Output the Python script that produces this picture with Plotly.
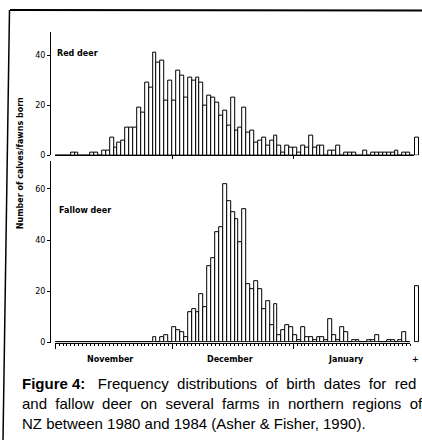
import plotly.graph_objects as go

# ---------------- data ----------------
# daily counts, day 0 = 1 November
red_deer = [0, 0, 0, 0, 1, 1, 0, 0, 0, 1, 1, 0, 2, 2, 7, 3, 5, 6, 11, 11,
            11, 19, 17, 29, 27, 41, 37, 38, 22, 30, 22, 34, 32, 23, 31, 30, 31, 29, 20, 24,
            23, 21, 16, 18, 12, 23, 10, 11, 19, 9, 10, 5, 6, 7, 4, 6, 8, 4, 1, 4,
            3, 3, 1, 4, 3, 8, 3, 4, 4, 0, 2, 2, 4, 0, 1, 1, 1, 0, 0, 2,
            0, 1, 1, 1, 1, 1, 1, 2, 0, 1, 1, 0]
fallow_deer = [0, 0, 0, 0, 0, 0, 0, 0, 0, 0, 0, 0, 0, 0, 0, 0, 0, 0, 0, 0,
               0, 0, 0, 0, 0, 2, 0, 2, 3, 0, 6, 5, 4, 2, 12, 13, 12, 19, 14, 30,
               33, 43, 45, 62, 55, 51, 48, 39, 52, 23, 21, 24, 21, 13, 16, 7, 15, 3, 5, 7,
               6, 3, 1, 6, 2, 2, 1, 2, 2, 1, 9, 3, 1, 6, 4, 0, 1, 1, 0, 0,
               1, 1, 3, 0, 0, 1, 1, 0, 1, 4, 0]
later_label = ["+"]
red_later = [7]
fallow_later = [22]

month_labels = ["November", "December", "January", "+"]
month_starts = [0, 30, 61]          # day index of 1 Nov, 1 Dec, 1 Jan
red_yticks = [0, 20, 40]
fallow_yticks = [0, 20, 40, 60]
caption = [
    "<b>Figure 4:</b>\u00a0\u00a0\u00a0Frequency\u00a0\u00a0distributions\u00a0\u00a0of\u00a0\u00a0birth\u00a0\u00a0dates\u00a0\u00a0for\u00a0\u00a0red",
    "and\u00a0\u00a0fallow\u00a0\u00a0deer\u00a0\u00a0on\u00a0\u00a0several\u00a0\u00a0farms\u00a0\u00a0in\u00a0\u00a0northern\u00a0\u00a0regions\u00a0\u00a0of",
    "NZ between 1980 and 1984 (Asher & Fisher, 1990).",
]

# ---------------- layout helpers ----------------
W, H = 422, 445
def px(x):
    return x / W
def py(y):
    return 1 - y / H

DAY = 3.903
X0 = 55.2
LBL = dict(family="DejaVu Sans", size=8, color="black")
TICKF = dict(family="DejaVu Sans", size=8, color="black")

red_days = list(range(len(red_deer)))
fallow_days = list(range(len(fallow_deer)))

bar_style = dict(marker=dict(color="white", line=dict(color="black", width=1)),
                 width=1, showlegend=False, hoverinfo="skip")

fig = go.Figure()
fig.add_trace(go.Bar(x=red_days, y=red_deer, xaxis="x", yaxis="y", **bar_style))
fig.add_trace(go.Bar(x=fallow_days, y=fallow_deer, xaxis="x2", yaxis="y2", **bar_style))
fig.add_trace(go.Bar(x=later_label, y=red_later, xaxis="x3", yaxis="y", **bar_style))
fig.add_trace(go.Bar(x=later_label, y=fallow_later, xaxis="x4", yaxis="y2", **bar_style))

n_red = len(red_deer)
n_fal = len(fallow_deer)
axis_common = dict(showgrid=False, zeroline=False, linecolor="black", linewidth=1,
                   tickcolor="black", tickwidth=1)

fig.update_layout(
    width=W, height=H,
    margin=dict(l=0, r=0, t=0, b=0),
    paper_bgcolor="white", plot_bgcolor="rgba(0,0,0,0)",
    bargap=0,
    xaxis=dict(domain=[px(X0), px(X0 + n_red * DAY)], range=[-0.5, n_red - 0.5],
               anchor="y", showline=True, ticks="outside", ticklen=3,
               tickvals=[m - 0.5 for m in month_starts[1:]], showticklabels=False,
               **axis_common),
    yaxis=dict(domain=[py(157), py(32)], range=[0, 49.5], anchor="free", position=px(50),
               showline=True, ticks="outside", ticklen=3, tickvals=red_yticks,
               tickfont=TICKF, tickprefix="<b>", ticksuffix="</b>", **axis_common),
    xaxis2=dict(domain=[px(X0), px(X0 + n_fal * DAY)], range=[-0.5, n_fal - 0.5],
                anchor="y2", showline=True, ticks="outside", ticklen=5,
                tickvals=[m - 0.5 for m in month_starts], showticklabels=False,
                minor=dict(ticks="outside", ticklen=2, dtick=1, tick0=-0.5,
                           tickcolor="black", showgrid=False),
                **axis_common),
    yaxis2=dict(domain=[py(346.5), py(163)], range=[0, 70.8], anchor="free", position=px(50),
                showline=True, ticks="outside", ticklen=3, tickvals=fallow_yticks,
                tickfont=TICKF, tickprefix="<b>", ticksuffix="</b>", **axis_common),
    xaxis3=dict(domain=[px(412), px(422)], range=[-1.175, 1.325], anchor="y",
                visible=False, type="category"),
    xaxis4=dict(domain=[px(412), px(422)], range=[-1.175, 1.325], anchor="y2",
                visible=False, type="category"),
)

ann = []
ann.append(dict(text="<b>Number of calves/fawns born</b>", x=px(20), y=py(165), textangle=-90,
                font=dict(family="DejaVu Sans", size=8, color="black")))
ann.append(dict(text="<b>Red deer</b>", x=px(55), y=py(54), xanchor="left", font=LBL))
ann.append(dict(text="<b>Fallow deer</b>", x=px(57), y=py(213), xanchor="left", font=LBL))
month_x = [110, 230, 346, 415]
for lab, mx in zip(month_labels, month_x):
    ann.append(dict(text="<b>" + lab + "</b>", x=px(mx), y=py(364), font=LBL))
for line, cy in zip(caption, [388, 408, 428]):
    ann.append(dict(text=line, x=px(19.5), y=py(cy), xanchor="left", yanchor="middle",
                    font=dict(family="Liberation Sans", size=15, color="black")))
for a in ann:
    a.update(xref="paper", yref="paper", showarrow=False)
    a.setdefault("xanchor", "center")
    a.setdefault("yanchor", "middle")
fig.update_layout(annotations=ann)

fig.update_layout(shapes=[
    dict(type="line", xref="paper", yref="paper", x0=px(10), y0=py(10), x1=1, y1=py(10.5),
         line=dict(color="black", width=2)),
    dict(type="line", xref="paper", yref="paper", x0=px(9.5), y0=py(10), x1=px(3), y1=0,
         line=dict(color="black", width=1.5)),
])

fig.write_html("out.html")
